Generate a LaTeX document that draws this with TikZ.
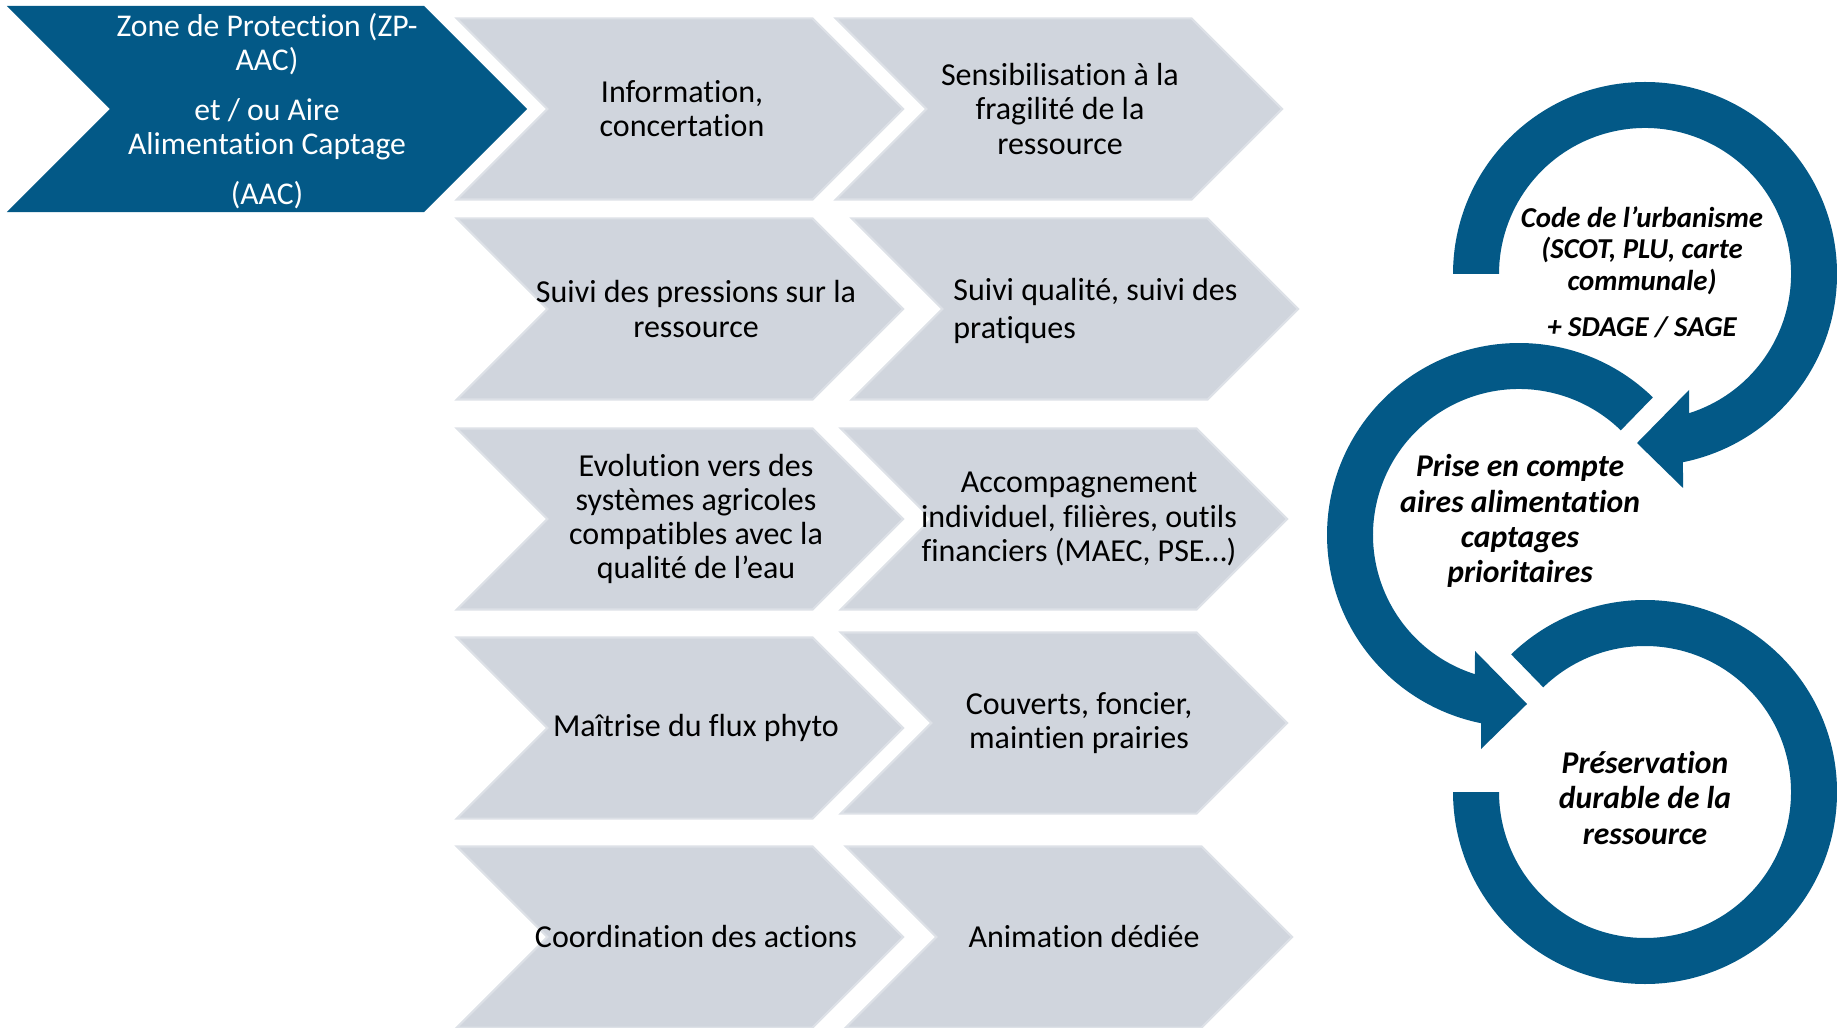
\documentclass[tikz,border=0pt]{standalone}
\usepackage{fontspec}
\setmainfont{Carlito}[Ligatures=NoCommon]
\usetikzlibrary{shapes.symbols, positioning, calc}

\definecolor{aacblue}{RGB}{3,89,135}
\definecolor{chevgray}{RGB}{208,213,221}
\definecolor{chevline}{RGB}{221,225,231}

\begin{document}
\begin{tikzpicture}[
    x=0.01cm, y=-0.01cm,
    chev/.style={signal, signal from=west, signal to=east, signal pointer angle=90,
        inner sep=0, outer sep=0, minimum height=1.81cm, minimum width=4.46cm,
        fill=chevgray, draw=chevline, line width=0.6pt},
    lbl/.style={align=center, font=\fontsize{9.1}{9.7}\selectfont},
    ring/.style={fill=aacblue},
    ringtxt/.style={align=center, font=\bfseries\itshape\fontsize{9}{10}\selectfont}
]
\useasboundingbox (0,0) rectangle (1837,1028);

% Entry chevron
\node[chev, fill=aacblue, draw=none, minimum width=5.2cm, minimum height=2.06cm] (zone) at (267,109) {};
\node[lbl, text=white, font=\fontsize{9}{9.7}\selectfont] (zonetxt) at ([yshift=-0.02cm]zone.center)
    {Zone de Protection (ZP-\\AAC)\\[4.5pt]et / ou Aire\\Alimentation Captage\\[4.5pt](AAC)};

% Action chevrons, row by row
\node[chev] (info)     at (680,109) {};
\node[chev] (sensib)   at (1059,109) {};
\node[chev] (pression) at (680,309) {};
\node[chev] (qualite)  at (1075,309) {};
\node[chev] (evol)     at (680,519) {};
\node[chev] (accomp)   at (1064,519) {};
\node[chev] (phyto)    at (680,728) {};
\node[chev] (couverts) at (1064,723) {};
\node[chev] (coord)    at (680,937) {};
\node[chev] (anim)     at (1069,937) {};

% Texts of the chevrons
\node[lbl] (infotxt) at ([xshift=0.02cm]info.center) {Information,\\concertation};
\node[lbl] (sensibtxt) at ([xshift=0.01cm]sensib.center) {Sensibilisation à la\\fragilité de la\\ressource};
\node[lbl] (pressiontxt) at ([xshift=0.16cm]pression.center) {Suivi des pressions sur la\\ressource};
\node[lbl, align=left, anchor=west] (qualitetxt) at (941,311) {Suivi qualité, suivi des\\[1pt]pratiques};
\node[lbl] (evoltxt) at ([xshift=0.16cm]evol.center) {Evolution vers des\\systèmes agricoles\\compatibles avec la\\qualité de l’eau};
\node[lbl] (accomptxt) at ([xshift=0.15cm]accomp.center) {Accompagnement\\individuel, filières, outils\\financiers (MAEC, PSE…)};
\node[lbl] (phytotxt) at ([xshift=0.16cm]phyto.center) {Maîtrise du flux phyto};
\node[lbl] (couvertstxt) at ([xshift=0.15cm]couverts.center) {Couverts, foncier,\\maintien prairies};
\node[lbl] (coordtxt) at ([xshift=0.16cm]coord.center) {Coordination des actions};
\node[lbl] (animtxt) at ([xshift=0.15cm]anim.center) {Animation dédiée};

% Circular arrows
\coordinate (c1) at (1645,274);
\coordinate (c2) at (1519,535);
\coordinate (c3) at (1645,792);

\begin{scope}[shift={(c1)}]
\fill[ring] (180:192) arc[start angle=180, end angle=438.6, radius=192]
    -- (38,214) -- (-8,169) -- (44,116) -- (432.4:146)
    arc[start angle=432.4, end angle=180, radius=146] -- cycle;
\end{scope}
\begin{scope}[shift={(c2)}]
\fill[ring] (314.2:192) arc[start angle=314.2, end angle=101.4, radius=192]
    -- (-38,214) -- (8,169) -- (-44,116) -- (107.6:146)
    arc[start angle=107.6, end angle=314.2, radius=146] -- cycle;
\end{scope}
\begin{scope}[shift={(c3)}]
\fill[ring] (180:192) arc[start angle=180, end angle=-134.2, radius=192]
    -- (-134.2:146) arc[start angle=-134.2, end angle=180, radius=146] -- cycle;
\end{scope}

% Texts of the circles
\node[ringtxt, font=\bfseries\itshape\fontsize{8.2}{9}\selectfont] (code) at (1642,272)
    {Code de l’urbanisme\\(SCOT, PLU, carte\\communale)\\[4pt]+ SDAGE / SAGE};
\node[ringtxt] (prise) at (1520,521) {Prise en compte\\aires alimentation\\captages\\prioritaires};
\node[ringtxt] (preserv) at (1645,798) {Préservation\\durable de la\\ressource};

\end{tikzpicture}
\end{document}
